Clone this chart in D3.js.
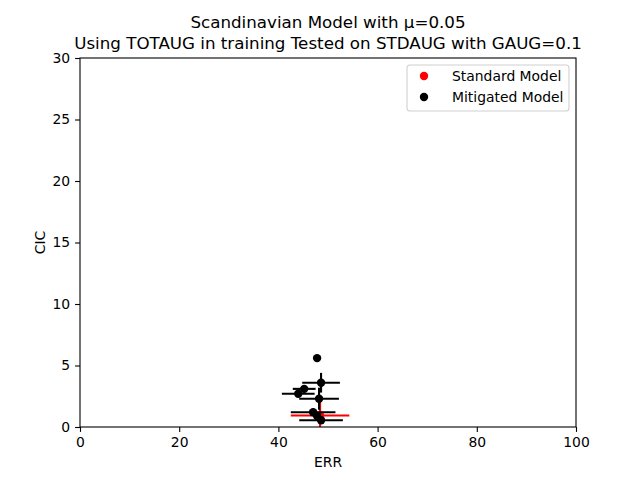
<!DOCTYPE html>
<html>
<head>
<meta charset="utf-8">
<script src="https://cdn.jsdelivr.net/npm/d3@7"></script>
<style>
body { margin: 0; background: #fff; }
text { font-family: "DejaVu Sans", sans-serif; }
</style>
</head>
<body>
<svg id="chart" width="640" height="480"></svg>
<script>
"use strict";

// chart data
const xTicks = [0, 20, 40, 60, 80, 100];
const yTicks = [0, 5, 10, 15, 20, 25, 30];

// standard model (red)
const stdErr = [48.4];
const stdCic = [0.93];
const stdErrX = [5.9];
const stdErrY = [1.15];

// mitigated model (black)
const mitErr = [47.8, 48.6, 45.2, 44.0, 48.2, 47.0, 47.8, 48.6];
const mitCic = [5.6, 3.6, 3.1, 2.7, 2.3, 1.2, 0.9, 0.55];
const mitErrX = [0.3, 3.8, 2.3, 3.3, 4.0, 4.5, 0.5, 4.4];
const mitErrY = [0.1, 0.8, 0.3, 0.2, 0.9, 0.3, 0.2, 0.3];

const labels = ["Standard Model", "Mitigated Model"];
const colors = ["#ff0000", "#000000"];

const svg = d3.select("#chart");
const margin = {left: 80, right: 64, top: 58, bottom: 53};
const W = 640, H = 480;

const x = d3.scaleLinear().domain([0, 100]).range([margin.left, W - margin.right]);
const y = d3.scaleLinear().domain([0, 30]).range([H - margin.bottom, margin.top]);

// clip so the error bars stay inside the axes
svg.append("clipPath").attr("id", "plotClip")
    .append("rect")
    .attr("x", x(0)).attr("y", y(30))
    .attr("width", x(100) - x(0)).attr("height", y(0) - y(30));

// axes
svg.append("g")
    .attr("transform", `translate(0,${y(0)})`)
    .call(d3.axisBottom(x).tickValues(xTicks).tickSize(4.9).tickPadding(4.9))
    .call(g => g.select(".domain").remove());

svg.append("g")
    .attr("transform", `translate(${x(0)},0)`)
    .call(d3.axisLeft(y).tickValues(yTicks).tickSize(4.9).tickPadding(4.9))
    .call(g => g.select(".domain").remove());

svg.selectAll(".tick text").attr("font-size", 13.9).attr("fill", "#000")
    .style("font-family", "'DejaVu Sans', sans-serif");
svg.selectAll(".tick line").attr("stroke", "#000").attr("stroke-width", 1.1);

// series drawn one after the other, standard model first
const series = [
    {xs: stdErr, ys: stdCic, ex: stdErrX, ey: stdErrY, color: colors[0]},
    {xs: mitErr, ys: mitCic, ex: mitErrX, ey: mitErrY, color: colors[1]}
];

const plot = svg.append("g").attr("clip-path", "url(#plotClip)");

series.forEach(function(s) {
    const g = plot.append("g");
    const idx = d3.range(s.xs.length);

    g.selectAll("line.h").data(idx).enter().append("line")
        .attr("x1", i => x(s.xs[i] - s.ex[i]))
        .attr("x2", i => x(s.xs[i] + s.ex[i]))
        .attr("y1", i => y(s.ys[i]))
        .attr("y2", i => y(s.ys[i]))
        .attr("stroke", s.color).attr("stroke-width", 2.1);

    g.selectAll("line.v").data(idx).enter().append("line")
        .attr("x1", i => x(s.xs[i]))
        .attr("x2", i => x(s.xs[i]))
        .attr("y1", i => y(s.ys[i] - s.ey[i]))
        .attr("y2", i => y(s.ys[i] + s.ey[i]))
        .attr("stroke", s.color).attr("stroke-width", 2.1);

    g.selectAll("circle").data(idx).enter().append("circle")
        .attr("cx", i => x(s.xs[i]))
        .attr("cy", i => y(s.ys[i]))
        .attr("r", 4.2)
        .attr("fill", s.color);
});

// frame
svg.append("rect")
    .attr("x", x(0)).attr("y", y(30))
    .attr("width", x(100) - x(0)).attr("height", y(0) - y(30))
    .attr("fill", "none").attr("stroke", "#000").attr("stroke-width", 1.1);

// titles
svg.append("text").attr("x", (x(0) + x(100)) / 2).attr("y", 28)
    .attr("text-anchor", "middle").attr("font-size", 16.7)
    .text("Scandinavian Model with μ=0.05");
svg.append("text").attr("x", (x(0) + x(100)) / 2).attr("y", 49)
    .attr("text-anchor", "middle").attr("font-size", 16.7)
    .text("Using TOTAUG in training Tested on STDAUG with GAUG=0.1");

svg.append("text").attr("x", (x(0) + x(100)) / 2).attr("y", 467)
    .attr("text-anchor", "middle").attr("font-size", 13.9).text("ERR");
svg.append("text")
    .attr("transform", `translate(45,${(y(0) + y(30)) / 2}) rotate(-90)`)
    .attr("text-anchor", "middle").attr("font-size", 13.9).text("CIC");

// legend
const lg = svg.append("g").attr("transform", "translate(407,65)");
lg.append("rect").attr("width", 162).attr("height", 46).attr("rx", 3)
    .attr("fill", "#fff").attr("fill-opacity", 0.8)
    .attr("stroke", "#d0d0d0").attr("stroke-width", 1.1);
labels.forEach(function(l, i) {
    lg.append("circle").attr("cx", 17).attr("cy", 11 + i * 21).attr("r", 4.2).attr("fill", colors[i]);
    lg.append("text").attr("x", 45).attr("y", 16 + i * 21).attr("font-size", 13.9).text(l);
});
</script>
</body>
</html>
